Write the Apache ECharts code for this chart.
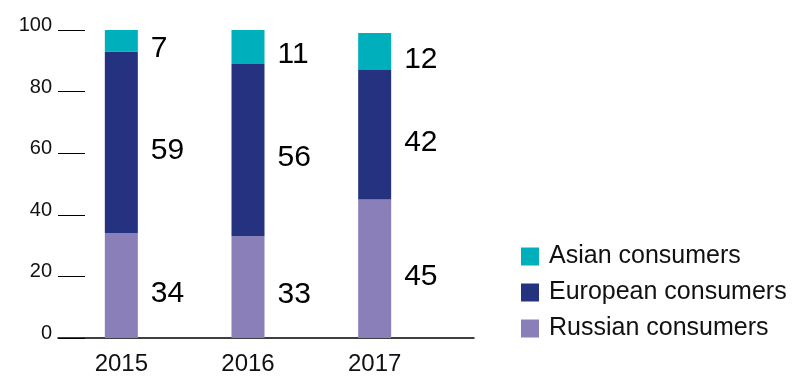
<!DOCTYPE html>
<html>
<head>
<meta charset="utf-8">
<script src="https://cdn.jsdelivr.net/npm/echarts@6/dist/echarts.min.js"></script>
<style>html,body{margin:0;padding:0;background:#fff;}#c{width:801px;height:387px;}</style>
</head>
<body>
<div id="c"></div>
<script>
const categories = ['2015', '2016', '2017'];
const russian = [34, 33, 45];
const european = [59, 56, 42];
const asian = [7, 11, 12];
const yTicks = [0, 20, 40, 60, 80, 100];

const colors = { asian: '#00AFBC', european: '#24327F', russian: '#8A7FB8' };
const font = 'Liberation Sans, Arial, Helvetica, sans-serif';

function series(name, data, color) {
  return {
    name: name,
    type: 'bar',
    stack: 'total',
    barWidth: 33,
    xAxisIndex: 0,
    yAxisIndex: 0,
    data: data,
    itemStyle: { color: color },
    label: {
      show: true,
      position: 'right',
      distance: 13,
      offset: [0, 8],
      fontFamily: font,
      fontSize: 30,
      color: '#000'
    },
    emphasis: { disabled: true }
  };
}

const chart = echarts.init(document.getElementById('c'), null, { renderer: 'canvas' });
chart.setOption({
  animation: false,
  grid: [
    { left: 58, right: 363, top: 30, bottom: 49, containLabel: false },
    { left: 58, right: 327, top: 30, bottom: 49, containLabel: false }
  ],
  legend: {
    orient: 'vertical',
    left: 516,
    top: 239,
    itemWidth: 18,
    itemHeight: 18,
    itemGap: 11,
    icon: 'rect',
    data: ['Asian consumers', 'European consumers', 'Russian consumers'],
    textStyle: { fontFamily: font, fontSize: 25, color: '#111', padding: [0, 0, 0, 5] }
  },
  xAxis: [
    {
      type: 'category',
      gridIndex: 0,
      data: categories,
      boundaryGap: true,
      axisTick: { show: false },
      axisLine: { show: false },
      axisLabel: { margin: 14, fontFamily: font, fontSize: 24, color: '#111' }
    },
    {
      type: 'value',
      gridIndex: 1,
      min: 0,
      max: 1,
      splitLine: { show: false },
      axisTick: { show: false },
      axisLabel: { show: false },
      axisLine: { show: true, onZero: false, lineStyle: { color: '#000', width: 1.5 } }
    }
  ],
  yAxis: [
    {
      type: 'value',
      gridIndex: 0,
      min: 0,
      max: 100,
      interval: 20,
      splitLine: { show: false },
      axisLine: { show: false, onZero: false },
      axisTick: { show: true, inside: true, length: 27, lineStyle: { color: '#000', width: 1 } },
      axisLabel: {
        margin: 6,
        fontFamily: font,
        fontSize: 20,
        color: '#111',
        verticalAlign: 'bottom',
        lineHeight: 9,
        formatter: v => yTicks.includes(v) ? String(v) : ''
      }
    },
    {
      type: 'value',
      gridIndex: 1,
      min: 0,
      max: 1,
      show: false
    }
  ],
  series: [
    series('Russian consumers', russian, colors.russian),
    series('European consumers', european, colors.european),
    series('Asian consumers', asian, colors.asian)
  ]
});
</script>
</body>
</html>
